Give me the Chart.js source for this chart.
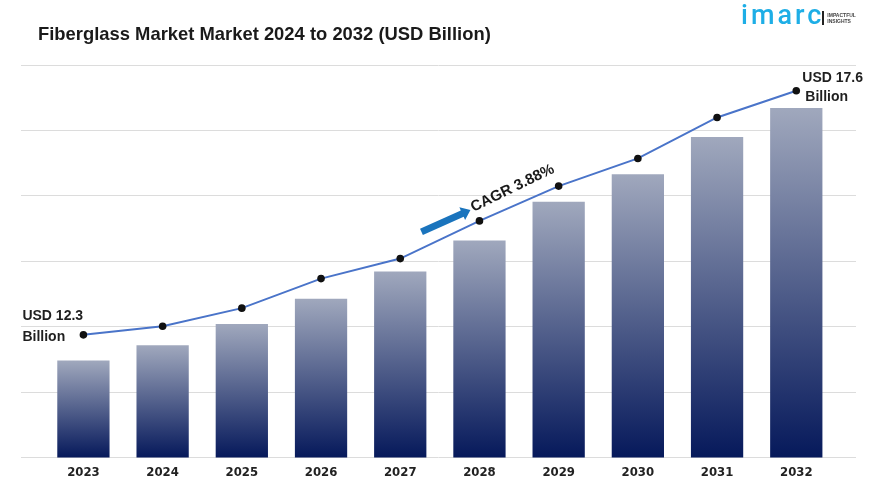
<!DOCTYPE html>
<html>
<head>
<meta charset="utf-8">
<script src="https://cdn.jsdelivr.net/npm/chart.js@4"></script>
<style>
  html, body { margin: 0; padding: 0; background: #fff; }
  #wrap { position: relative; width: 870px; height: 488px; overflow: hidden; }
  #grafico { position: absolute; left: 0; top: 0; }
  #titulo {
    position: absolute; left: 38px; top: 23px;
    font: bold 18.4px 'Liberation Sans', Arial, sans-serif; color: #1a1a1a;
    white-space: nowrap;
  }
  #logo { position: absolute; left: 741px; top: -1px; white-space: nowrap; }
  #logo .marca {
    font: 500 27px Roboto, 'Open Sans', sans-serif; color: #1eaee6;
    letter-spacing: 3px; vertical-align: middle;
  }
  #logo .barra {
    display: inline-block; width: 2px; height: 14px; background: #222;
    vertical-align: middle; margin-left: -2px; margin-top: 6px;
  }
  #logo .lema {
    display: inline-block; vertical-align: middle; margin-left: 3px; margin-top: 6px;
    font: bold 5px 'Liberation Sans', Arial, sans-serif; color: #444; line-height: 6px;
  }
</style>
</head>
<body>
<div id="wrap">
  <canvas id="grafico" width="870" height="488"></canvas>
  <div id="titulo">Fiberglass Market Market 2024 to 2032 (USD Billion)</div>
  <div id="logo"><span class="marca">imarc</span><span class="barra"></span><span class="lema">IMPACTFUL<br>INSIGHTS</span></div>
</div>
<script>
// ===================== dados =====================
const anos = ['2023', '2024', '2025', '2026', '2027', '2028', '2029', '2030', '2031', '2032'];
const valoresMercado = [12.3, 12.62, 13.07, 13.6, 14.17, 14.82, 15.63, 16.21, 16.99, 17.6];
const linhaTendencia = [12.84, 13.02, 13.4, 14.02, 14.44, 15.23, 15.96, 16.54, 17.4, 17.96];
const cagrTexto = 'CAGR 3.88%';
const eixoMin = 10.27;
const eixoMax = 18.5;
const numLinhasGrade = 6;

const fonteTexto = "'Liberation Sans', Arial, sans-serif";
const fonteAnos = "'Liberation Sans Narrow', 'DejaVu Sans Condensed', 'Liberation Sans', sans-serif";

// ===================== gradiente das barras =====================
function corBarra(context) {
  const chart = context.chart;
  const area = chart.chartArea;
  if (!area || context.dataIndex === undefined) return '#3b4f80';
  const y = chart.scales.y;
  const topo = y.getPixelForValue(valoresMercado[context.dataIndex]);
  const base = y.getPixelForValue(eixoMin);
  const g = chart.ctx.createLinearGradient(0, topo, 0, base);
  g.addColorStop(0, '#a0a8bd');
  g.addColorStop(1, '#06195b');
  return g;
}

// ===================== anotações =====================
const anotacoes = {
  id: 'anotacoes',
  afterDatasetsDraw(chart) {
    const ctx = chart.ctx;
    const pts = chart.getDatasetMeta(0).data;
    const p0 = pts[0], pN = pts[pts.length - 1], p5 = pts[5];

    ctx.save();
    ctx.fillStyle = '#1f1f1f';
    ctx.font = 'bold 14px ' + fonteTexto;
    ctx.textBaseline = 'alphabetic';
    ctx.textAlign = 'left';
    ctx.fillText('USD ' + valoresMercado[0], p0.x - 61, p0.y - 15);
    ctx.fillText('Billion', p0.x - 61, p0.y + 6);
    ctx.fillText('USD ' + valoresMercado[valoresMercado.length - 1], pN.x + 6, pN.y - 9);
    ctx.fillText('Billion', pN.x + 9, pN.y + 10);

    // seta azul
    const tx = p5.x - 58, ty = p5.y + 11;
    const hx = p5.x - 9, hy = p5.y - 11;
    const ang = Math.atan2(hy - ty, hx - tx);
    const L = Math.hypot(hx - tx, hy - ty);
    ctx.save();
    ctx.translate(tx, ty);
    ctx.rotate(ang);
    ctx.fillStyle = '#1a74bd';
    ctx.beginPath();
    ctx.moveTo(0, -3.5);
    ctx.lineTo(L - 9, -3.5);
    ctx.lineTo(L - 9, -7);
    ctx.lineTo(L, 0);
    ctx.lineTo(L - 9, 7);
    ctx.lineTo(L - 9, 3.5);
    ctx.lineTo(0, 3.5);
    ctx.closePath();
    ctx.fill();
    ctx.restore();

    // texto CAGR
    ctx.save();
    ctx.translate(p5.x - 6, p5.y - 9);
    ctx.rotate(-26 * Math.PI / 180);
    ctx.font = 'bold 15px ' + fonteTexto;
    ctx.fillStyle = '#1a1a1a';
    ctx.fillText(cagrTexto, 0, 0);
    ctx.restore();

    ctx.restore();
  }
};

// ===================== gráfico =====================
new Chart(document.getElementById('grafico'), {
  data: {
    datasets: [
      {
        type: 'line',
        data: linhaTendencia.map((v, i) => ({ x: i, y: v })),
        borderColor: '#4a74c9',
        borderWidth: 2,
        pointBackgroundColor: '#111',
        pointBorderWidth: 0,
        pointRadius: 3.8,
        tension: 0,
        order: 0,
      },
      {
        type: 'bar',
        data: valoresMercado.map((v, i) => ({ x: i, y: v })),
        backgroundColor: corBarra,
        barPercentage: 0.66,
        categoryPercentage: 1,
        order: 1,
      }
    ]
  },
  options: {
    responsive: false,
    animation: false,
    layout: { padding: { top: 65, left: 21, right: 14, bottom: 1 } },
    plugins: { legend: { display: false }, tooltip: { enabled: false } },
    scales: {
      x: {
        type: 'linear',
        offset: false,
        min: -0.788,
        max: 9.754,
        afterBuildTicks: (s) => { s.ticks = anos.map((_, i) => ({ value: i })); },
        ticks: {
          autoSkip: false, maxRotation: 0, padding: 7,
          color: '#222',
          font: { family: fonteAnos, size: 13, weight: 'bold' },
          callback: (v) => anos[v],
        },
        grid: { display: false, drawTicks: false },
        border: { display: false },
      },
      y: {
        min: eixoMin,
        max: eixoMax,
        afterBuildTicks: (s) => {
          const t = [];
          for (let i = 0; i <= numLinhasGrade; i++) t.push({ value: eixoMin + i * (eixoMax - eixoMin) / numLinhasGrade });
          s.ticks = t;
        },
        ticks: { display: false },
        grid: { color: '#dcdcdc', drawTicks: false },
        border: { display: false },
      }
    }
  },
  plugins: [anotacoes]
});
</script>
</body>
</html>
